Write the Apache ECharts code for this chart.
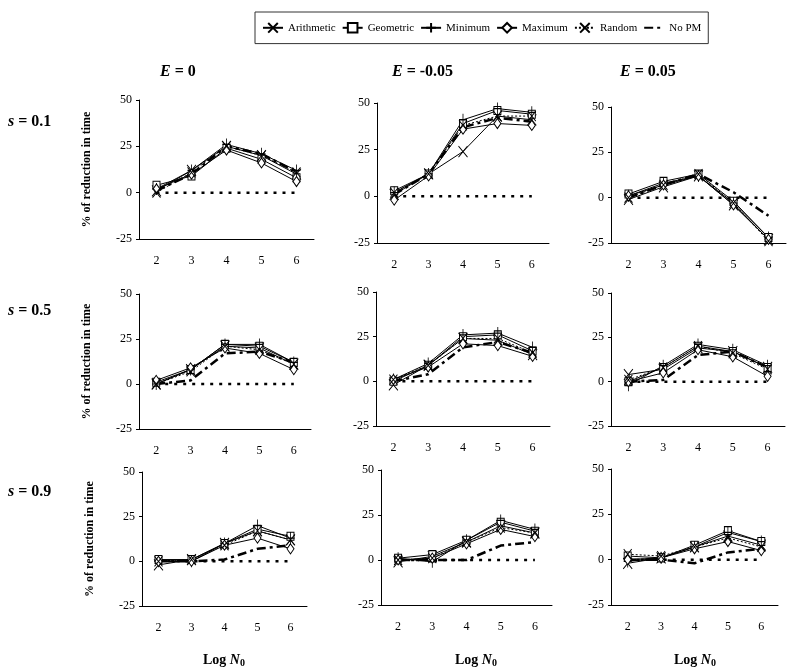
<!DOCTYPE html>
<html>
<head>
<meta charset="utf-8">
<script src="https://cdn.jsdelivr.net/npm/echarts@6/dist/echarts.min.js"></script>
<style>
  html, body { margin: 0; padding: 0; background: #fff; }
  #main { width: 800px; height: 672px; }
</style>
</head>
<body>
<div id="main"></div>
<script>
// categories (Log N0)
var categories = ["2", "3", "4", "5", "6"];
var yTicks = { min: -25, max: 50, interval: 25 };

// panel order: row s = 0.1, 0.5, 0.9 ; column E = 0, -0.05, 0.05
var sLabels = ["0.1", "0.5", "0.9"];
var eLabels = ["0", "-0.05", "0.05"];

var arithmetic = [
  [1, 12, 25, 20, 10],
  [1, 12, 24, 43, 41],
  [-1, 6, 12, -4, -23],
  [0, 8, 21, 20, 11],
  [-2, 9, 24, 23, 15],
  [4, 7, 19, 17, 8],
  [-2, 1, 10, 17, 12],
  [-1, 2, 10, 19, 15],
  [-2, 1, 7, 13, 8]
];
var geometric = [
  [4, 9, 24, 18, 8],
  [3, 12, 39, 46, 44],
  [2, 9, 13, -2, -22],
  [1, 8, 22, 21, 12],
  [0, 9, 25, 26, 17],
  [0, 8, 20, 17, 8],
  [1, 1, 10, 18, 14],
  [1, 3, 11, 21, 16],
  [2, 1, 8, 16, 10]
];
var minimum = [
  [2, 12, 26, 21, 12],
  [2, 12, 41, 47, 45],
  [1, 8, 12, -3, -22],
  [0, 8, 22, 22, 12],
  [1, 10, 26, 27, 19],
  [-2, 9, 21, 18, 9],
  [0, 0, 10, 20, 13],
  [1, -1, 11, 22, 17],
  [-1, 1, 7, 15, 10]
];
var maximum = [
  [2, 10, 23, 16, 6],
  [-2, 11, 36, 39, 38],
  [1, 7, 12, -4, -23],
  [2, 9, 20, 17, 8],
  [1, 8, 21, 20, 14],
  [0, 5, 18, 14, 3],
  [0, 0, 9, 13, 7],
  [0, 1, 9, 17, 13],
  [0, 1, 6, 10, 5]
];
var random = [
  [0, 11, 25, 20, 11],
  [2, 12, 38, 43, 43],
  [0, 7, 13, -3, -24],
  [0, 7, 21, 19, 11],
  [1, 9, 24, 24, 16],
  [1, 8, 20, 16, 7],
  [0, 1, 9, 17, 12],
  [0, 1, 10, 18, 15],
  [3, 2, 7, 12, 7]
];
var noPM = [
  [1, 10, 25, 21, 11],
  [1, 12, 37, 42, 40],
  [0, 7, 13, 3, -10],
  [0, 2, 17, 18, 12],
  [0, 4, 19, 22, 16],
  [0, 1, 15, 17, 8],
  [0, 0, 1, 7, 9],
  [0, 0, 0, 8, 10],
  [0, 0, -2, 4, 6]
];
var zeroLine = [0, 0, 0, 0, 0];

var FONT = "Liberation Serif, 'DejaVu Serif', serif";

// grid boxes [left, top, width, height]
var boxes = [
  [139, 100, 175, 139], [377, 103, 172, 140], [611, 107, 175, 136],
  [139, 294, 172, 135], [376, 292, 174, 134], [611, 293, 174, 133],
  [142, 472, 165, 134], [381, 470, 171, 135], [611, 469, 167, 136]
];

var X_PATH = "path://M0,0L10,12M10,0L0,12";
var PLUS_PATH = "path://M5,0L5,12M0,6L10,6";

var seriesDefs = [
  { name: "Arithmetic", data: arithmetic, symbol: X_PATH, size: [9, 11], line: { width: 1, type: "solid" } },
  { name: "Geometric", data: geometric, symbol: "rect", size: [7, 8], line: { width: 1, type: "solid" } },
  { name: "Minimum", data: minimum, symbol: PLUS_PATH, size: [8, 12], line: { width: 1, type: "solid" } },
  { name: "Maximum", data: maximum, symbol: "diamond", size: [7, 10], line: { width: 1, type: "solid" } },
  { name: "Random", data: random, symbol: X_PATH, size: [8, 10], line: { width: 1, type: [2, 2] } },
  { name: "No PM", data: noPM, symbol: "none", size: 0, line: { width: 2.5, type: [9, 4, 3, 4] } }
];

var grids = [], xAxes = [], yAxes = [], series = [];
boxes.forEach(function (b, p) {
  grids.push({ left: b[0], top: b[1], width: b[2], height: b[3] });
  xAxes.push({
    type: "category", gridIndex: p, data: categories,
    axisLine: { onZero: false, lineStyle: { color: "#000", width: 1 } },
    axisTick: { length: 4, lineStyle: { color: "#000" } },
    axisLabel: { margin: 16, fontFamily: FONT, fontSize: 12, color: "#000" },
    splitLine: { show: false }
  });
  var y = {
    type: "value", gridIndex: p, min: yTicks.min, max: yTicks.max, interval: yTicks.interval,
    axisLine: { show: true, lineStyle: { color: "#000", width: 1 } },
    axisTick: { show: true, length: 3, lineStyle: { color: "#000" } },
    axisLabel: { margin: 7, fontFamily: FONT, fontSize: 12, color: "#000" },
    splitLine: { show: false }
  };
  if (p % 3 === 0) {
    y.name = "% of reduction in time";
    y.nameLocation = "middle";
    y.nameGap = 46;
    y.nameTextStyle = { fontFamily: FONT, fontSize: 12, fontWeight: "bold", color: "#000" };
  }
  yAxes.push(y);

  series.push({
    name: "zero", type: "line", xAxisIndex: p, yAxisIndex: p, data: zeroLine,
    symbol: "none", silent: true,
    lineStyle: { color: "#000", width: 2.5, type: [3, 6] }, z: 1
  });
  seriesDefs.forEach(function (d) {
    series.push({
      name: d.name, type: "line", xAxisIndex: p, yAxisIndex: p, data: d.data[p],
      symbol: d.symbol, symbolSize: d.size, showSymbol: d.symbol !== "none",
      lineStyle: { color: "#000", width: d.line.width, type: d.line.type },
      itemStyle: { color: "#fff", borderColor: "#000", borderWidth: 1 },
      z: d.name === "No PM" ? 2 : 3
    });
  });
});

var titles = [];
var rich = {
  i: { fontFamily: FONT, fontSize: 16, fontWeight: "bold", fontStyle: "italic", color: "#000" },
  n: { fontFamily: FONT, fontSize: 14, fontWeight: "bold", fontStyle: "italic", color: "#000" },
  sub: { fontFamily: FONT, fontSize: 10, fontWeight: "bold", color: "#000", verticalAlign: "bottom", padding: [6, 0, 0, 0] }
};
var colHeadLeft = [160, 392, 620];
eLabels.forEach(function (e, c) {
  titles.push({ text: "{i|E} = " + e, left: colHeadLeft[c], top: 64, padding: 0,
    textStyle: { fontFamily: FONT, fontSize: 16, fontWeight: "bold", color: "#000", rich: rich } });
});
var rowTop = [114, 303, 484];
sLabels.forEach(function (s, r) {
  titles.push({ text: "{i|s} = " + s, left: 8, top: rowTop[r], padding: 0,
    textStyle: { fontFamily: FONT, fontSize: 16, fontWeight: "bold", color: "#000", rich: rich } });
});
var logLeft = [203, 455, 674];
logLeft.forEach(function (l) {
  titles.push({ text: "Log {n|N}{sub|0}", left: l, top: 652, padding: 0,
    textStyle: { fontFamily: FONT, fontSize: 14, fontWeight: "bold", color: "#000", rich: rich } });
});

var chart = echarts.init(document.getElementById("main"));
chart.setOption({
  animation: false,
  backgroundColor: "#fff",
  title: titles,
  legend: {
    data: ["Arithmetic", "Geometric", "Minimum", "Maximum", "Random",
      { name: "No PM", itemStyle: { opacity: 0 } }],
    left: 255, top: 12, padding: [10, 7],
    borderColor: "#333", borderWidth: 1,
    itemWidth: 20, itemHeight: 12, itemGap: 6,
    textStyle: { fontFamily: FONT, fontSize: 11, color: "#000" }
  },
  grid: grids,
  xAxis: xAxes,
  yAxis: yAxes,
  series: series
});
</script>
</body>
</html>
